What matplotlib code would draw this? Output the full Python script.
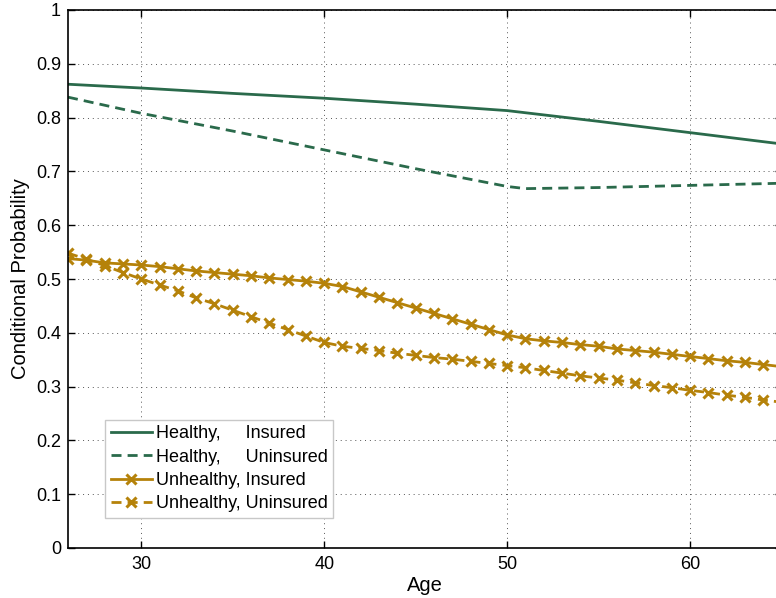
import numpy as np
import matplotlib
matplotlib.use('Agg')
import matplotlib.pyplot as plt
from matplotlib.ticker import FormatStrFormatter

plt.rcParams['font.family'] = ['Liberation Sans', 'DejaVu Sans']

# healthy curves (read at a few ages)
age_h = [26, 30, 35, 40, 45, 50, 55, 60, 65]
healthy_ins = [0.862, 0.855, 0.845, 0.836, 0.825, 0.813, 0.793, 0.772, 0.751]
age_hu = [26, 30, 35, 40, 45, 50, 51, 55, 60, 65]
healthy_unins = [0.838, 0.808, 0.775, 0.740, 0.705, 0.672, 0.668, 0.670, 0.674, 0.678]

# unhealthy curves, one value per year 26..65
age_u = list(range(26, 66))
unhealthy_ins = [0.538, 0.535, 0.530, 0.528, 0.526, 0.523, 0.519, 0.515, 0.512, 0.509,
                 0.506, 0.502, 0.499, 0.496, 0.492, 0.486, 0.476, 0.466, 0.456, 0.446,
                 0.436, 0.426, 0.416, 0.406, 0.396, 0.389, 0.385, 0.382, 0.378, 0.375,
                 0.370, 0.367, 0.364, 0.360, 0.356, 0.352, 0.348, 0.345, 0.341, 0.337]
unhealthy_unins = [0.548, 0.537, 0.525, 0.512, 0.500, 0.489, 0.478, 0.465, 0.454, 0.442,
                   0.430, 0.418, 0.406, 0.394, 0.382, 0.375, 0.371, 0.367, 0.362, 0.358,
                   0.354, 0.351, 0.347, 0.343, 0.339, 0.335, 0.330, 0.325, 0.320, 0.316,
                   0.312, 0.307, 0.302, 0.298, 0.293, 0.289, 0.284, 0.280, 0.275, 0.271]

green = '#2a6a4b'
gold = '#b5820a'

fig = plt.figure(figsize=(7.76, 5.98), dpi=100)
ax = fig.add_axes([68/776, 50/598, 713.7/776, 538/598])

lw = 2.0
ax.plot(age_h, healthy_ins, color=green, lw=lw, label='Healthy,     Insured')
ax.plot(age_hu, healthy_unins, color=green, lw=lw, dashes=(3.6, 2.2), label='Healthy,     Uninsured')
ax.plot(age_u, unhealthy_ins, color=gold, lw=lw, marker='x', ms=6.5, mew=2.2, label='Unhealthy, Insured')
ax.plot(age_u, unhealthy_unins, color=gold, lw=lw, dashes=(3.6, 2.2), marker='x', ms=6.5, mew=2.2,
        label='Unhealthy, Uninsured')

ax.set_xlim(26, 65)
ax.set_ylim(0, 1)
ax.set_xticks([30, 40, 50, 60])
ax.set_yticks(np.arange(0, 1.01, 0.1))
ax.yaxis.set_major_formatter(FormatStrFormatter('%g'))
ax.tick_params(direction='in', top=True, right=True, labelsize=13, length=5, width=1)
ax.tick_params(axis='x', pad=6)
ax.tick_params(axis='y', pad=5)
ax.grid(True, linestyle=(0, (1, 4)), color='#555555', linewidth=0.7)
for s in ax.spines.values():
    s.set_linewidth(1.2)

ax.set_xlabel('Age', fontsize=14.5, labelpad=2)
ax.set_ylabel('Conditional Probability', fontsize=14.5, labelpad=4)

leg = ax.legend(loc='lower left', bbox_to_anchor=(0.052, 0.056), borderaxespad=0,
                fontsize=13, handlelength=2.3, handletextpad=0.2, labelspacing=0.35,
                fancybox=False, framealpha=1, edgecolor='#c8c8c8', borderpad=0.3)
leg.get_frame().set_linewidth(1.0)

fig.savefig('out.png', dpi=100)
